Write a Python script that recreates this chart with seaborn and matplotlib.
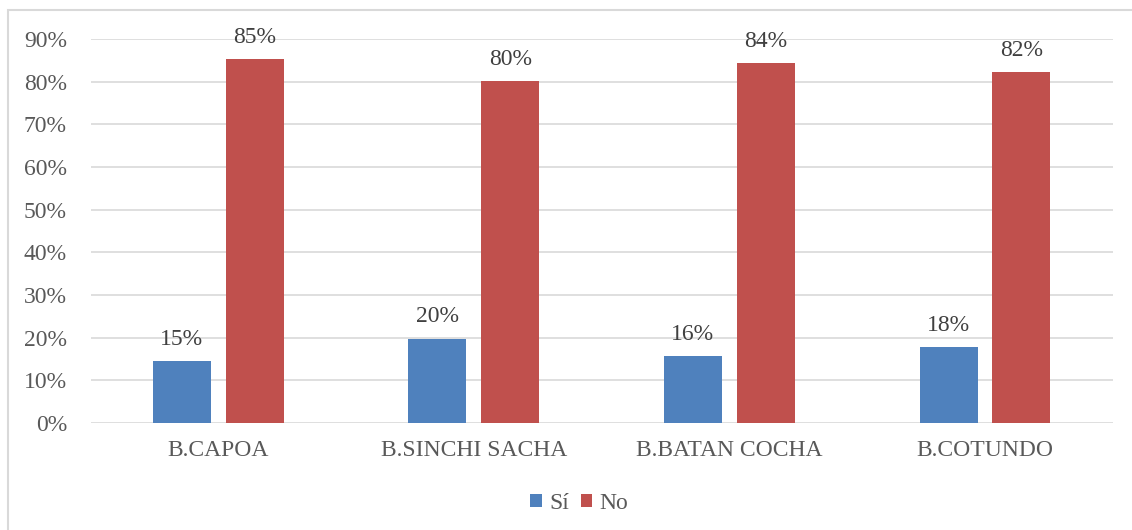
import matplotlib
matplotlib.use("Agg")
import matplotlib.pyplot as plt
from matplotlib.ticker import PercentFormatter, MultipleLocator
from matplotlib.patches import Rectangle
import seaborn as sns
import pandas as pd

# datos
barrios = ['B.CAPOA', 'B.SINCHI SACHA', 'B.BATAN COCHA', 'B.COTUNDO']
si = [0.146, 0.198, 0.156, 0.177]
no = [0.854, 0.802, 0.844, 0.823]
respuestas = ['Sí', 'No']
colores = ['#4F81BD', '#C0504D']

df = pd.DataFrame({
    'barrio': barrios * 2,
    'respuesta': ['Sí'] * len(barrios) + ['No'] * len(barrios),
    'valor': si + no,
})

sns.set_theme(style='white')
plt.rcParams['font.family'] = ['Liberation Serif', 'DejaVu Serif']

fig = plt.figure(figsize=(11.32, 5.30), dpi=100)
ax = fig.add_axes([0.080, 0.202, 0.903, 0.724])

sns.barplot(data=df, x='barrio', y='valor', hue='respuesta', hue_order=respuestas,
            palette=colores, width=0.571, gap=0.205, saturation=1, ax=ax,
            linewidth=0, legend=True)

for cont in ax.containers:
    ax.bar_label(cont, labels=[f'{v:.0%}' for v in cont.datavalues],
                 padding=8, fontsize=17, color='#404040')

ax.set_ylim(0, 0.9)
ax.yaxis.set_major_locator(MultipleLocator(0.1))
ax.yaxis.set_major_formatter(PercentFormatter(1.0, decimals=0))
ax.grid(axis='y', color='#D9D9D9', linewidth=1.2)
ax.set_axisbelow(True)
for s in ax.spines.values():
    s.set_visible(False)
ax.tick_params(axis='both', length=0, labelsize=17, colors='#595959')
ax.tick_params(axis='y', pad=17)
ax.tick_params(axis='x', pad=12)
ax.set_xlabel('')
ax.set_ylabel('')

ax.legend(loc='center', bbox_to_anchor=(0.478, -0.21), ncol=2, frameon=False,
          fontsize=17, handlelength=0.5, handleheight=0.5, handletextpad=0.3,
          columnspacing=0.5, labelcolor='#595959')

fig.patches.append(Rectangle((8 / 1132, -0.05), 1.2, 1 - 10 / 530 + 0.05,
                             transform=fig.transFigure, fill=False,
                             edgecolor='#D9D9D9', linewidth=1.5))

fig.savefig('out.png', dpi=100)
